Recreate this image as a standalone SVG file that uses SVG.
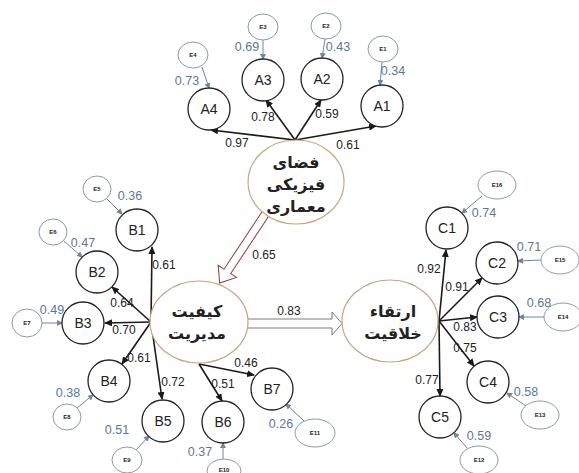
<svg xmlns="http://www.w3.org/2000/svg" width="579" height="473" viewBox="0 0 579 473">
<style>
.big{fill:#fff;stroke:#c6a57e;stroke-width:1.2}
.obs{fill:#fff;stroke:#222;stroke-width:1.3}
.err{fill:#fff;stroke:#8c9aa8;stroke-width:1}
text{font-family:"Liberation Sans",Arial,sans-serif;text-anchor:middle;dominant-baseline:central}
.lbl{font-size:14px;fill:#222}
.el{font-size:6px;font-weight:bold;fill:#222}
.num{font-size:12px;fill:#222}
.ev{font-size:12.5px;fill:#5d7890}
.fa{font-family:"DejaVu Sans",sans-serif;font-weight:bold;font-size:16px;fill:#222}
.ld{stroke:#1a1a1a;stroke-width:1.6;fill:none;marker-end:url(#ah)}
.ea{stroke:#6f86a0;stroke-width:1;fill:none;marker-end:url(#eh)}
</style>
<defs>
<marker id="ah" markerUnits="userSpaceOnUse" markerWidth="8" markerHeight="7" refX="7" refY="3.5" orient="auto"><path d="M0,0 L8,3.5 L0,7 z" fill="#1a1a1a"/></marker>
<marker id="eh" markerUnits="userSpaceOnUse" markerWidth="6" markerHeight="6" refX="5" refY="3" orient="auto"><path d="M0,0 L6,3 L0,6 z" fill="#6f86a0"/></marker>
</defs>
<rect width="579" height="473" fill="#fff"/>

<g id="connectors">
<line class="ld" x1="295" y1="140" x2="211" y2="130"/>
<line class="ld" x1="295" y1="140" x2="266" y2="100"/>
<line class="ld" x1="295" y1="140" x2="321" y2="100"/>
<line class="ld" x1="295" y1="140" x2="376" y2="126"/>
<line class="ld" x1="151" y1="322" x2="152" y2="247"/>
<line class="ld" x1="151" y1="322" x2="112" y2="287"/>
<line class="ld" x1="151" y1="322" x2="105" y2="323"/>
<line class="ld" x1="151" y1="322" x2="122" y2="364"/>
<line class="ld" x1="151" y1="322" x2="162" y2="399"/>
<line class="ld" x1="199" y1="364" x2="222" y2="401"/>
<line class="ld" x1="199" y1="364" x2="254" y2="375"/>
<line class="ld" x1="439" y1="321" x2="446" y2="250"/>
<line class="ld" x1="439" y1="321" x2="482" y2="278"/>
<line class="ld" x1="439" y1="321" x2="477" y2="317"/>
<line class="ld" x1="439" y1="321" x2="474" y2="366"/>
<line class="ld" x1="439" y1="321" x2="440" y2="396"/>
<line class="ea" x1="202" y1="67" x2="209" y2="88"/>
<line class="ea" x1="263" y1="40" x2="263" y2="59"/>
<line class="ea" x1="325" y1="39" x2="322" y2="58"/>
<line class="ea" x1="382" y1="62" x2="380" y2="85"/>
<line class="ea" x1="107" y1="199" x2="122" y2="214"/>
<line class="ea" x1="64" y1="241" x2="82" y2="257"/>
<line class="ea" x1="42" y1="323" x2="62" y2="323"/>
<line class="ea" x1="77" y1="408" x2="93" y2="395"/>
<line class="ea" x1="136" y1="450" x2="149" y2="436"/>
<line class="ea" x1="223" y1="459" x2="223" y2="443"/>
<line class="ea" x1="304" y1="421" x2="286" y2="404"/>
<line class="ea" x1="482" y1="196" x2="462" y2="213"/>
<line class="ea" x1="541" y1="260" x2="518" y2="261"/>
<line class="ea" x1="544" y1="317" x2="519" y2="317"/>
<line class="ea" x1="526" y1="406" x2="507" y2="393"/>
<line class="ea" x1="468" y1="449" x2="454" y2="433"/>
<g transform="translate(266,213) rotate(123.5)">
<path d="M0,-4 L70,-4 L70,-11 L84,0 L70,11 L70,4 L0,4" fill="#fff" stroke="#8b3a3a" stroke-width="1"/>
</g>
<path d="M248,319 L332,319 L332,312 L342,323.5 L332,335 L332,328 L248,328" fill="#fff" stroke="#7a7a7a" stroke-width="1"/>
</g>

<g id="F1"><ellipse class="big" cx="296" cy="182" rx="48" ry="42"/>
<text class="fa" x="296" y="162">فضای</text><text class="fa" x="296" y="184">فیزیکی</text><text class="fa" x="296" y="206">معماری</text></g>
<g id="F2"><ellipse class="big" cx="199" cy="322" rx="49" ry="41"/>
<text class="fa" x="197" y="311">کیفیت</text><text class="fa" x="197" y="333">مدیریت</text></g>
<g id="F3"><ellipse class="big" cx="390" cy="321" rx="48" ry="41"/>
<text class="fa" x="393" y="311">ارتقاء</text><text class="fa" x="393" y="333">خلاقیت</text></g>

<g id="A1"><circle class="obs" cx="382" cy="106" r="21"/><text class="lbl" x="382" y="106">A1</text></g>
<g id="A2"><circle class="obs" cx="322" cy="79" r="21"/><text class="lbl" x="322" y="79">A2</text></g>
<g id="A3"><circle class="obs" cx="263" cy="80" r="21"/><text class="lbl" x="263" y="80">A3</text></g>
<g id="A4"><circle class="obs" cx="209" cy="109" r="21"/><text class="lbl" x="209" y="109">A4</text></g>
<g id="E1"><ellipse class="err" cx="383" cy="49" rx="15" ry="13"/><text class="el" x="383" y="49">E1</text></g>
<g id="E2"><ellipse class="err" cx="326" cy="26" rx="15" ry="13"/><text class="el" x="326" y="26">E2</text></g>
<g id="E3"><ellipse class="err" cx="263" cy="27" rx="15" ry="13"/><text class="el" x="263" y="27">E3</text></g>
<g id="E4"><ellipse class="err" cx="193" cy="55" rx="15" ry="13"/><text class="el" x="193" y="55">E4</text></g>

<g id="B1"><circle class="obs" cx="137" cy="230" r="21"/><text class="lbl" x="137" y="230">B1</text></g>
<g id="B2"><circle class="obs" cx="97" cy="272" r="21"/><text class="lbl" x="97" y="272">B2</text></g>
<g id="B3"><circle class="obs" cx="83" cy="323" r="21"/><text class="lbl" x="83" y="323">B3</text></g>
<g id="B4"><circle class="obs" cx="109" cy="381" r="21"/><text class="lbl" x="109" y="381">B4</text></g>
<g id="B5"><circle class="obs" cx="163" cy="421" r="21"/><text class="lbl" x="163" y="421">B5</text></g>
<g id="B6"><circle class="obs" cx="223" cy="422" r="21"/><text class="lbl" x="223" y="422">B6</text></g>
<g id="B7"><circle class="obs" cx="272" cy="389" r="21"/><text class="lbl" x="272" y="389">B7</text></g>
<g id="E5"><ellipse class="err" cx="97" cy="189" rx="14" ry="13"/><text class="el" x="97" y="189">E5</text></g>
<g id="E6"><ellipse class="err" cx="53" cy="232" rx="14" ry="13"/><text class="el" x="53" y="232">E6</text></g>
<g id="E7"><ellipse class="err" cx="27" cy="323" rx="15" ry="14"/><text class="el" x="27" y="323">E7</text></g>
<g id="E8"><ellipse class="err" cx="67" cy="417" rx="14" ry="13"/><text class="el" x="67" y="417">E8</text></g>
<g id="E9"><ellipse class="err" cx="127" cy="460" rx="15" ry="13"/><text class="el" x="127" y="460">E9</text></g>
<g id="E10"><ellipse class="err" cx="224" cy="471" rx="17" ry="12"/><text class="el" x="224" y="470">E10</text></g>
<g id="E11"><ellipse class="err" cx="315" cy="433" rx="20" ry="14"/><text class="el" x="315" y="433">E11</text></g>

<g id="C1"><circle class="obs" cx="447" cy="228" r="21"/><text class="lbl" x="447" y="228">C1</text></g>
<g id="C2"><circle class="obs" cx="497" cy="263" r="21"/><text class="lbl" x="497" y="263">C2</text></g>
<g id="C3"><circle class="obs" cx="498" cy="317" r="21"/><text class="lbl" x="498" y="317">C3</text></g>
<g id="C4"><circle class="obs" cx="488" cy="382" r="21"/><text class="lbl" x="488" y="382">C4</text></g>
<g id="C5"><circle class="obs" cx="440" cy="417" r="21"/><text class="lbl" x="440" y="417">C5</text></g>
<g id="E16"><ellipse class="err" cx="497" cy="185" rx="19" ry="14"/><text class="el" x="497" y="185">E16</text></g>
<g id="E15"><ellipse class="err" cx="560" cy="260" rx="19" ry="14"/><text class="el" x="560" y="260">E15</text></g>
<g id="E14"><ellipse class="err" cx="563" cy="317" rx="19" ry="14"/><text class="el" x="563" y="317">E14</text></g>
<g id="E13"><ellipse class="err" cx="540" cy="415" rx="19" ry="14"/><text class="el" x="540" y="415">E13</text></g>
<g id="E12"><ellipse class="err" cx="479" cy="460" rx="19" ry="14"/><text class="el" x="479" y="460">E12</text></g>

<g id="labels">
<text class="num" x="237" y="143">0.97</text>
<text class="num" x="263" y="117">0.78</text>
<text class="num" x="327" y="114">0.59</text>
<text class="num" x="348" y="145">0.61</text>
<text class="num" x="164" y="265">0.61</text>
<text class="num" x="122" y="303">0.64</text>
<text class="num" x="124" y="330">0.70</text>
<text class="num" x="139" y="358">0.61</text>
<text class="num" x="173" y="382">0.72</text>
<text class="num" x="223" y="384">0.51</text>
<text class="num" x="246" y="363">0.46</text>
<text class="num" x="264" y="255">0.65</text>
<text class="num" x="289" y="311">0.83</text>
<text class="num" x="429" y="269">0.92</text>
<text class="num" x="457" y="287">0.91</text>
<text class="num" x="465" y="327">0.83</text>
<text class="num" x="465" y="348">0.75</text>
<text class="num" x="427" y="380">0.77</text>
<text class="ev" x="187" y="81">0.73</text>
<text class="ev" x="247" y="47">0.69</text>
<text class="ev" x="338" y="47">0.43</text>
<text class="ev" x="393" y="71">0.34</text>
<text class="ev" x="130" y="196">0.36</text>
<text class="ev" x="83" y="243">0.47</text>
<text class="ev" x="52" y="310">0.49</text>
<text class="ev" x="68" y="393">0.38</text>
<text class="ev" x="117" y="430">0.51</text>
<text class="ev" x="200" y="452">0.37</text>
<text class="ev" x="281" y="424">0.26</text>
<text class="ev" x="484" y="213">0.74</text>
<text class="ev" x="529" y="247">0.71</text>
<text class="ev" x="539" y="303">0.68</text>
<text class="ev" x="526" y="392">0.58</text>
<text class="ev" x="479" y="436">0.59</text>
</g>
</svg>
